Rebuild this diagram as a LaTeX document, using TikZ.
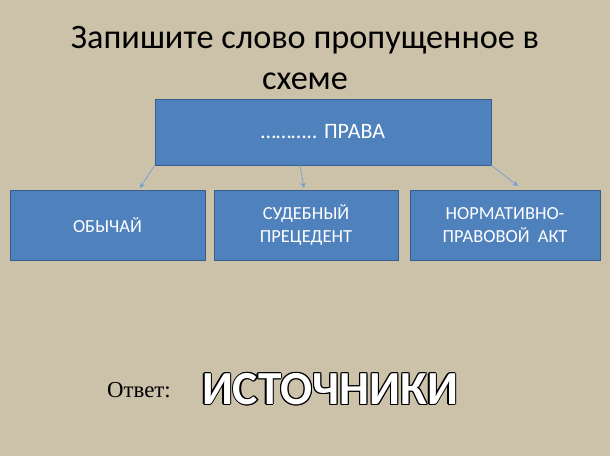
\documentclass[tikz,border=0pt]{standalone}
\usepackage{fontspec}
\setmainfont{Carlito}
\newfontfamily\timesfont{Liberation Serif}
\usetikzlibrary{positioning}
\definecolor{bgcol}{RGB}{204,194,170}
\definecolor{boxcol}{RGB}{79,129,189}
\definecolor{boxline}{RGB}{56,93,138}
\definecolor{arrcol}{RGB}{110,160,210}
\tikzset{
  kindbox/.style={draw=boxline, fill=boxcol, text=white, align=center, font=\fontsize{10.5}{13}\selectfont, inner sep=0pt},
  link/.style={->, arrcol, thin, >=stealth}
}
\begin{document}
\begin{tikzpicture}[x=0.02cm,y=-0.02cm]
		\fill[bgcol] (0,0) rectangle (610,456);
		\useasboundingbox (0,0) rectangle (610,456);

		\node[font=\fontsize{19.5}{23}\selectfont, align=center] (title) at (305,58) {Запишите слово пропущенное в\\схеме};

		\node[kindbox, minimum width=336*0.02cm, minimum height=66*0.02cm, font=\fontsize{12.5}{14}\selectfont] (top) at (323,132) {……….. ПРАВА};

		\node[kindbox, minimum width=195*0.02cm, minimum height=70*0.02cm] (custom) at (107.5,225) {ОБЫЧАЙ};
		\node[kindbox, minimum width=184*0.02cm, minimum height=70*0.02cm] (prec) at (306,225) {СУДЕБНЫЙ\\ПРЕЦЕДЕНТ};
		\node[kindbox, minimum width=190*0.02cm, minimum height=70*0.02cm] (act) at (505,225) {НОРМАТИВНО-\\ПРАВОВОЙ~~АКТ};

		\draw[link] (top.south west) -- (140,188);
		\draw[link] (300,165) -- (304,188);
		\draw[link] (top.south east) -- (518,186);

		\node[font=\timesfont\fontsize{13}{15}\selectfont] (ans) at (139,390) {Ответ:};
		\foreach \dx/\dy in {-1.2/0,1.2/0,0/-1.2,0/1.2,-0.9/-0.9,0.9/0.9,-0.9/0.9,0.9/-0.9}
			\node[font=\bfseries\fontsize{27}{32}\selectfont, text=black] at (330+\dx,389+\dy) {ИСТОЧНИКИ};
		\node[font=\bfseries\fontsize{27}{32}\selectfont, text=white] (word) at (330,389) {ИСТОЧНИКИ};
\end{tikzpicture}
\end{document}
